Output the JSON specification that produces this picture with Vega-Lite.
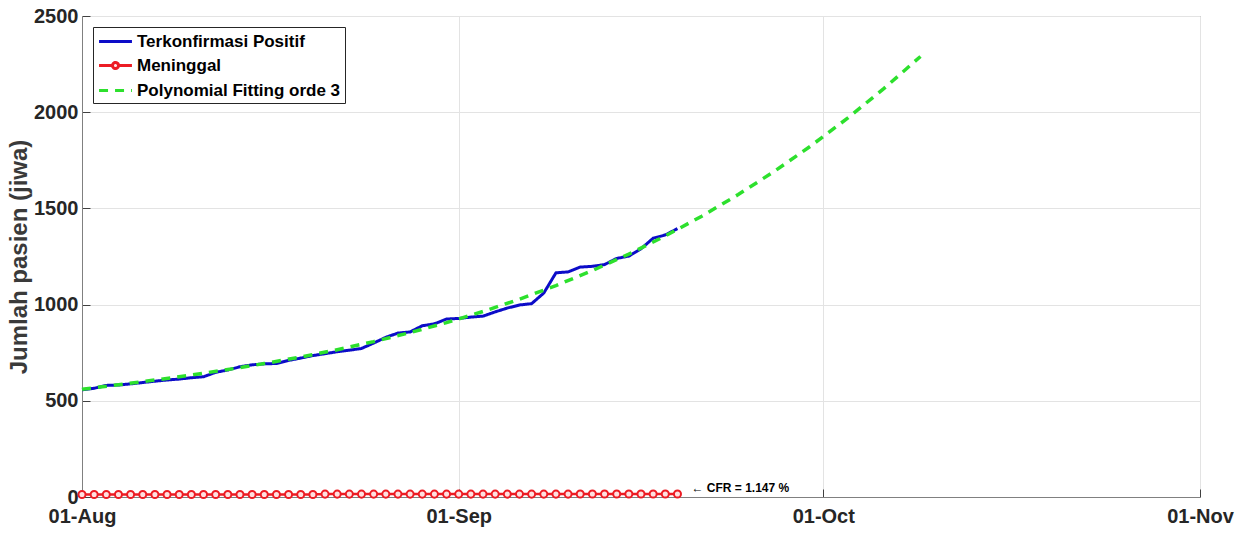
{
  "$schema": "https://vega.github.io/schema/vega-lite/v6.json",
  "width": 1118,
  "height": 481,
  "autosize": "none",
  "padding": {"left": 82, "top": 16, "right": 46, "bottom": 37},
  "background": "white",
  "config": {
    "view": {"stroke": "#808080", "strokeWidth": 1},
    "font": "Liberation Sans"
  },
  "datasets": {
    "main": [
      {"date": "2020-08-01", "series": "Terkonfirmasi Positif", "value": 557},
      {"date": "2020-08-02", "series": "Terkonfirmasi Positif", "value": 565},
      {"date": "2020-08-03", "series": "Terkonfirmasi Positif", "value": 580},
      {"date": "2020-08-04", "series": "Terkonfirmasi Positif", "value": 582},
      {"date": "2020-08-05", "series": "Terkonfirmasi Positif", "value": 588},
      {"date": "2020-08-06", "series": "Terkonfirmasi Positif", "value": 595},
      {"date": "2020-08-07", "series": "Terkonfirmasi Positif", "value": 602},
      {"date": "2020-08-08", "series": "Terkonfirmasi Positif", "value": 608},
      {"date": "2020-08-09", "series": "Terkonfirmasi Positif", "value": 613},
      {"date": "2020-08-10", "series": "Terkonfirmasi Positif", "value": 620},
      {"date": "2020-08-11", "series": "Terkonfirmasi Positif", "value": 625},
      {"date": "2020-08-12", "series": "Terkonfirmasi Positif", "value": 648},
      {"date": "2020-08-13", "series": "Terkonfirmasi Positif", "value": 660},
      {"date": "2020-08-14", "series": "Terkonfirmasi Positif", "value": 677},
      {"date": "2020-08-15", "series": "Terkonfirmasi Positif", "value": 687},
      {"date": "2020-08-16", "series": "Terkonfirmasi Positif", "value": 692},
      {"date": "2020-08-17", "series": "Terkonfirmasi Positif", "value": 694},
      {"date": "2020-08-18", "series": "Terkonfirmasi Positif", "value": 710},
      {"date": "2020-08-19", "series": "Terkonfirmasi Positif", "value": 722},
      {"date": "2020-08-20", "series": "Terkonfirmasi Positif", "value": 735},
      {"date": "2020-08-21", "series": "Terkonfirmasi Positif", "value": 745},
      {"date": "2020-08-22", "series": "Terkonfirmasi Positif", "value": 755},
      {"date": "2020-08-23", "series": "Terkonfirmasi Positif", "value": 763},
      {"date": "2020-08-24", "series": "Terkonfirmasi Positif", "value": 772},
      {"date": "2020-08-25", "series": "Terkonfirmasi Positif", "value": 800},
      {"date": "2020-08-26", "series": "Terkonfirmasi Positif", "value": 830},
      {"date": "2020-08-27", "series": "Terkonfirmasi Positif", "value": 852},
      {"date": "2020-08-28", "series": "Terkonfirmasi Positif", "value": 858},
      {"date": "2020-08-29", "series": "Terkonfirmasi Positif", "value": 890},
      {"date": "2020-08-30", "series": "Terkonfirmasi Positif", "value": 900},
      {"date": "2020-08-31", "series": "Terkonfirmasi Positif", "value": 925},
      {"date": "2020-09-01", "series": "Terkonfirmasi Positif", "value": 928},
      {"date": "2020-09-02", "series": "Terkonfirmasi Positif", "value": 935},
      {"date": "2020-09-03", "series": "Terkonfirmasi Positif", "value": 940},
      {"date": "2020-09-04", "series": "Terkonfirmasi Positif", "value": 962},
      {"date": "2020-09-05", "series": "Terkonfirmasi Positif", "value": 982},
      {"date": "2020-09-06", "series": "Terkonfirmasi Positif", "value": 998},
      {"date": "2020-09-07", "series": "Terkonfirmasi Positif", "value": 1005},
      {"date": "2020-09-08", "series": "Terkonfirmasi Positif", "value": 1060},
      {"date": "2020-09-09", "series": "Terkonfirmasi Positif", "value": 1165},
      {"date": "2020-09-10", "series": "Terkonfirmasi Positif", "value": 1170},
      {"date": "2020-09-11", "series": "Terkonfirmasi Positif", "value": 1195},
      {"date": "2020-09-12", "series": "Terkonfirmasi Positif", "value": 1199},
      {"date": "2020-09-13", "series": "Terkonfirmasi Positif", "value": 1208},
      {"date": "2020-09-14", "series": "Terkonfirmasi Positif", "value": 1240},
      {"date": "2020-09-15", "series": "Terkonfirmasi Positif", "value": 1252},
      {"date": "2020-09-16", "series": "Terkonfirmasi Positif", "value": 1290},
      {"date": "2020-09-17", "series": "Terkonfirmasi Positif", "value": 1345},
      {"date": "2020-09-18", "series": "Terkonfirmasi Positif", "value": 1362},
      {"date": "2020-09-19", "series": "Terkonfirmasi Positif", "value": 1395},
      {"date": "2020-08-01", "series": "Meninggal", "value": 13},
      {"date": "2020-08-02", "series": "Meninggal", "value": 13},
      {"date": "2020-08-03", "series": "Meninggal", "value": 13},
      {"date": "2020-08-04", "series": "Meninggal", "value": 13},
      {"date": "2020-08-05", "series": "Meninggal", "value": 13},
      {"date": "2020-08-06", "series": "Meninggal", "value": 13},
      {"date": "2020-08-07", "series": "Meninggal", "value": 13},
      {"date": "2020-08-08", "series": "Meninggal", "value": 13},
      {"date": "2020-08-09", "series": "Meninggal", "value": 13},
      {"date": "2020-08-10", "series": "Meninggal", "value": 13},
      {"date": "2020-08-11", "series": "Meninggal", "value": 13},
      {"date": "2020-08-12", "series": "Meninggal", "value": 13},
      {"date": "2020-08-13", "series": "Meninggal", "value": 13},
      {"date": "2020-08-14", "series": "Meninggal", "value": 13},
      {"date": "2020-08-15", "series": "Meninggal", "value": 13},
      {"date": "2020-08-16", "series": "Meninggal", "value": 13},
      {"date": "2020-08-17", "series": "Meninggal", "value": 13},
      {"date": "2020-08-18", "series": "Meninggal", "value": 13},
      {"date": "2020-08-19", "series": "Meninggal", "value": 13},
      {"date": "2020-08-20", "series": "Meninggal", "value": 13},
      {"date": "2020-08-21", "series": "Meninggal", "value": 15},
      {"date": "2020-08-22", "series": "Meninggal", "value": 15},
      {"date": "2020-08-23", "series": "Meninggal", "value": 15},
      {"date": "2020-08-24", "series": "Meninggal", "value": 15},
      {"date": "2020-08-25", "series": "Meninggal", "value": 15},
      {"date": "2020-08-26", "series": "Meninggal", "value": 15},
      {"date": "2020-08-27", "series": "Meninggal", "value": 15},
      {"date": "2020-08-28", "series": "Meninggal", "value": 15},
      {"date": "2020-08-29", "series": "Meninggal", "value": 15},
      {"date": "2020-08-30", "series": "Meninggal", "value": 15},
      {"date": "2020-08-31", "series": "Meninggal", "value": 15},
      {"date": "2020-09-01", "series": "Meninggal", "value": 15},
      {"date": "2020-09-02", "series": "Meninggal", "value": 15},
      {"date": "2020-09-03", "series": "Meninggal", "value": 15},
      {"date": "2020-09-04", "series": "Meninggal", "value": 15},
      {"date": "2020-09-05", "series": "Meninggal", "value": 15},
      {"date": "2020-09-06", "series": "Meninggal", "value": 15},
      {"date": "2020-09-07", "series": "Meninggal", "value": 15},
      {"date": "2020-09-08", "series": "Meninggal", "value": 15},
      {"date": "2020-09-09", "series": "Meninggal", "value": 15},
      {"date": "2020-09-10", "series": "Meninggal", "value": 15},
      {"date": "2020-09-11", "series": "Meninggal", "value": 16},
      {"date": "2020-09-12", "series": "Meninggal", "value": 16},
      {"date": "2020-09-13", "series": "Meninggal", "value": 16},
      {"date": "2020-09-14", "series": "Meninggal", "value": 16},
      {"date": "2020-09-15", "series": "Meninggal", "value": 16},
      {"date": "2020-09-16", "series": "Meninggal", "value": 16},
      {"date": "2020-09-17", "series": "Meninggal", "value": 16},
      {"date": "2020-09-18", "series": "Meninggal", "value": 16},
      {"date": "2020-09-19", "series": "Meninggal", "value": 16},
      {"date": "2020-08-01", "series": "Polynomial Fitting orde 3", "value": 560},
      {"date": "2020-08-04", "series": "Polynomial Fitting orde 3", "value": 583.4},
      {"date": "2020-08-07", "series": "Polynomial Fitting orde 3", "value": 607.9},
      {"date": "2020-08-10", "series": "Polynomial Fitting orde 3", "value": 634.1},
      {"date": "2020-08-13", "series": "Polynomial Fitting orde 3", "value": 662.4},
      {"date": "2020-08-16", "series": "Polynomial Fitting orde 3", "value": 693.4},
      {"date": "2020-08-19", "series": "Polynomial Fitting orde 3", "value": 727.6},
      {"date": "2020-08-22", "series": "Polynomial Fitting orde 3", "value": 765.5},
      {"date": "2020-08-25", "series": "Polynomial Fitting orde 3", "value": 807.6},
      {"date": "2020-08-28", "series": "Polynomial Fitting orde 3", "value": 854.4},
      {"date": "2020-08-31", "series": "Polynomial Fitting orde 3", "value": 906.4},
      {"date": "2020-09-03", "series": "Polynomial Fitting orde 3", "value": 964.2},
      {"date": "2020-09-06", "series": "Polynomial Fitting orde 3", "value": 1028.2},
      {"date": "2020-09-09", "series": "Polynomial Fitting orde 3", "value": 1098.9},
      {"date": "2020-09-12", "series": "Polynomial Fitting orde 3", "value": 1176.9},
      {"date": "2020-09-15", "series": "Polynomial Fitting orde 3", "value": 1262.7},
      {"date": "2020-09-18", "series": "Polynomial Fitting orde 3", "value": 1356.7},
      {"date": "2020-09-21", "series": "Polynomial Fitting orde 3", "value": 1459.6},
      {"date": "2020-09-24", "series": "Polynomial Fitting orde 3", "value": 1571.8},
      {"date": "2020-09-27", "series": "Polynomial Fitting orde 3", "value": 1693.8},
      {"date": "2020-09-30", "series": "Polynomial Fitting orde 3", "value": 1826.0},
      {"date": "2020-10-03", "series": "Polynomial Fitting orde 3", "value": 1969.1},
      {"date": "2020-10-06", "series": "Polynomial Fitting orde 3", "value": 2123.6},
      {"date": "2020-10-09", "series": "Polynomial Fitting orde 3", "value": 2289.8}
    ],
    "note": [
      {"date": "2020-09-19", "value": 16, "label": "← CFR = 1.147 %"}
    ]
  },
  "data": {"name": "main"},
  "encoding": {
    "x": {
      "field": "date",
      "type": "temporal",
      "scale": {
        "type": "utc",
        "domain": [
          {"year": 2020, "month": 8, "date": 1, "utc": true},
          {"year": 2020, "month": 11, "date": 1, "utc": true}
        ]
      },
      "axis": {
        "title": null,
        "values": [
          {"year": 2020, "month": 8, "date": 1, "utc": true},
          {"year": 2020, "month": 9, "date": 1, "utc": true},
          {"year": 2020, "month": 10, "date": 1, "utc": true},
          {"year": 2020, "month": 11, "date": 1, "utc": true}
        ],
        "labelExpr": "utcFormat(datum.value, '%d-%b')",
        "grid": true,
        "gridColor": "#e3e3e3",
        "gridWidth": 1,
        "domainColor": "#808080",
        "tickColor": "#404040",
        "tickSize": -8,
        "labelPadding": 17,
        "labelFont": "Liberation Sans",
        "labelFontSize": 20,
        "labelFontWeight": "bold",
        "labelColor": "#262626",
        "labelFlush": false,
        "labelOverlap": false
      }
    },
    "y": {
      "field": "value",
      "type": "quantitative",
      "scale": {"domain": [0, 2500], "nice": false, "zero": true},
      "axis": {
        "title": "Jumlah pasien (jiwa)",
        "values": [0, 500, 1000, 1500, 2000, 2500],
        "format": "d",
        "grid": true,
        "gridColor": "#e3e3e3",
        "gridWidth": 1,
        "domainColor": "#808080",
        "tickColor": "#404040",
        "tickSize": -8,
        "labelPadding": 12,
        "labelFont": "Liberation Sans",
        "labelFontSize": 20,
        "labelFontWeight": "bold",
        "labelColor": "#262626",
        "titleFont": "Liberation Sans",
        "titleFontSize": 24,
        "titleFontWeight": "bold",
        "titleColor": "#3a3a3a",
        "titlePadding": 2
      }
    }
  },
  "layer": [
    {
      "transform": [{"filter": "datum.series === 'Terkonfirmasi Positif'"}],
      "mark": {"type": "line", "strokeWidth": 3},
      "encoding": {
        "color": {
          "field": "series",
          "type": "nominal",
          "scale": {
            "domain": ["Terkonfirmasi Positif", "Meninggal", "Polynomial Fitting orde 3"],
            "range": ["#0c0cc8", "#ec1c24", "#2de02d"]
          },
          "legend": {
            "title": null,
            "orient": "top-left",
            "offset": 11,
            "fillColor": "white",
            "strokeColor": "#262626",
            "padding": 4,
            "symbolType": "stroke",
            "symbolSize": 300,
            "symbolOffset": 8,
            "symbolStrokeWidth": 3,
            "labelFont": "Liberation Sans",
            "labelFontSize": 17,
            "labelFontWeight": "bold",
            "labelColor": "#000000",
            "labelLimit": 400,
            "rowPadding": 5,
            "labelOffset": 11,
            "encode": {
              "symbols": {
                "update": {
                  "shape": {"signal": "datum.value === 'Meninggal' ? 'M-1.9,0H-0.35M0.35,0H1.9M-0.35,0A0.35,0.35,0,1,1,0.35,0A0.35,0.35,0,1,1,-0.35,0' : 'M-1.9,0H1.9'"},
                  "fill": {"value": "#ffe0e0"},
                  "fillOpacity": {"value": 1}
                }
              }
            }
          }
        },
        "strokeDash": {
          "field": "series",
          "type": "nominal",
          "scale": {
            "domain": ["Terkonfirmasi Positif", "Meninggal", "Polynomial Fitting orde 3"],
            "range": [[1, 0], [1, 0], [9, 7]]
          },
          "legend": null
        }
      }
    },
    {
      "transform": [{"filter": "datum.series === 'Meninggal'"}],
      "mark": {"type": "line", "strokeWidth": 2.5},
      "encoding": {
        "color": {"field": "series", "type": "nominal"},
        "strokeDash": {"field": "series", "type": "nominal"}
      }
    },
    {
      "transform": [{"filter": "datum.series === 'Meninggal'"}],
      "mark": {"type": "point", "shape": "circle", "filled": false, "size": 50, "strokeWidth": 2, "stroke": "#ec1c24", "fill": "#ffe0e0", "fillOpacity": 1, "opacity": 1}
    },
    {
      "transform": [{"filter": "datum.series === 'Polynomial Fitting orde 3'"}],
      "mark": {"type": "line", "strokeWidth": 3.5},
      "encoding": {
        "color": {"field": "series", "type": "nominal"},
        "strokeDash": {"field": "series", "type": "nominal"}
      }
    },
    {
      "data": {"name": "note"},
      "mark": {"type": "text", "align": "left", "baseline": "middle", "dx": 14, "dy": -6, "font": "Liberation Sans", "fontSize": 12, "fontWeight": "bold", "color": "#000000"},
      "encoding": {
        "text": {"field": "label"}
      }
    }
  ]
}
